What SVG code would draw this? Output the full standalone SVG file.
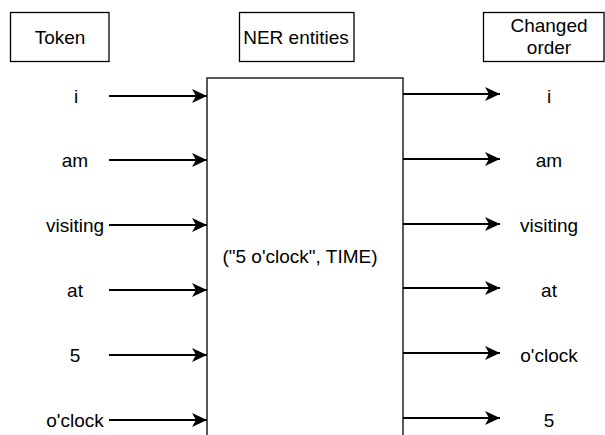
<svg xmlns="http://www.w3.org/2000/svg" width="605" height="435" viewBox="0 0 605 435">
<style>
.box{fill:#fff;stroke:#000;stroke-width:1.3}
.t{font-family:"Liberation Sans",Arial,Helvetica,sans-serif;font-size:19px;fill:#000;text-anchor:middle}
.c{stroke:#000;stroke-width:1.8;fill:none;marker-end:url(#arr)}
</style>
<defs>
<marker id="arr" markerUnits="userSpaceOnUse" markerWidth="16" markerHeight="15" refX="15" refY="7.5" orient="auto">
<path d="M0,0.5 L15,7.5 L0,14.5 L4,7.5 Z" fill="#000"/>
</marker>
</defs>
<rect width="605" height="435" fill="#fff"/>
<g id="token-header"><rect class="box" x="10.5" y="12.5" width="98.5" height="49"/><text class="t" x="60" y="44">Token</text></g>
<g id="ner-header"><rect class="box" x="239.5" y="12.5" width="114.5" height="49"/><text class="t" x="296" y="44">NER entities</text></g>
<g id="changed-header"><rect class="box" x="483.5" y="12.5" width="120.5" height="49"/><text class="t" x="549" y="32">Changed</text><text class="t" x="549" y="54">order</text></g>
<g id="ner-box"><rect class="box" x="207" y="78" width="196" height="380"/><text class="t" x="300" y="263">("5 o'clock", TIME)</text></g>
<g id="left-tokens">
<text class="t" x="76" y="103">i</text>
<text class="t" x="75" y="167">am</text>
<text class="t" x="75" y="232">visiting</text>
<text class="t" x="75" y="297">at</text>
<text class="t" x="75" y="362">5</text>
<text class="t" x="75" y="427">o'clock</text>
</g>
<g id="right-tokens">
<text class="t" x="549" y="103">i</text>
<text class="t" x="549" y="167">am</text>
<text class="t" x="549" y="232">visiting</text>
<text class="t" x="549" y="297">at</text>
<text class="t" x="549" y="362">o'clock</text>
<text class="t" x="549" y="427">5</text>
</g>
<g id="connectors">
<line class="c" x1="109" y1="96" x2="207" y2="96"/>
<line class="c" x1="109" y1="160" x2="207" y2="160"/>
<line class="c" x1="109" y1="225" x2="207" y2="225"/>
<line class="c" x1="109" y1="290" x2="207" y2="290"/>
<line class="c" x1="109" y1="355" x2="207" y2="355"/>
<line class="c" x1="109" y1="420" x2="207" y2="420"/>
<line class="c" x1="403" y1="94" x2="500" y2="94"/>
<line class="c" x1="403" y1="159" x2="500" y2="159"/>
<line class="c" x1="403" y1="224" x2="500" y2="224"/>
<line class="c" x1="403" y1="288" x2="500" y2="288"/>
<line class="c" x1="403" y1="353" x2="500" y2="353"/>
<line class="c" x1="403" y1="418" x2="500" y2="418"/>
</g>
</svg>
